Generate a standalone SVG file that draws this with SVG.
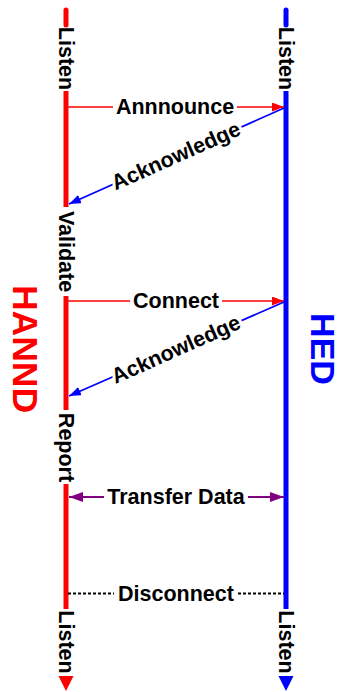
<svg xmlns="http://www.w3.org/2000/svg" width="342" height="692" viewBox="0 0 342 692">
  <style>
    .lbl { font-family: "Liberation Sans", Arial, sans-serif; font-weight: bold; font-size: 21.5px; fill: #000; }
    .halo { stroke: #fff; stroke-width: 6px; paint-order: stroke; stroke-linejoin: round; }
    .bg { fill: #fff; }
    .big { font-family: "Liberation Sans", Arial, sans-serif; font-weight: bold; font-size: 35.5px; }
    .red { stroke: #ff0000; }
    .blue { stroke: #0000ff; }
    .life { stroke-width: 5; fill: none; }
    .msg { stroke-width: 1.7; fill: none; }
  </style>
  <defs>
    <marker id="ahRed" markerUnits="userSpaceOnUse" markerWidth="12" markerHeight="9" refX="12" refY="4.5" orient="auto">
      <path d="M0,0 L12,4.5 L0,9 z" fill="#ff0000"/>
    </marker>
    <marker id="ahBlue" markerUnits="userSpaceOnUse" markerWidth="12" markerHeight="9" refX="12" refY="4.5" orient="auto">
      <path d="M0,0 L12,4.5 L0,9 z" fill="#0000ff"/>
    </marker>
    <marker id="ahPurple" markerUnits="userSpaceOnUse" markerWidth="14" markerHeight="10" refX="14" refY="5" orient="auto-start-reverse">
      <path d="M0,0 L14,5 L0,10 z" fill="#800080"/>
    </marker>
  </defs>

  <g id="hannd">
    <g class="life red">
      <line x1="66" y1="10" x2="66" y2="25" stroke-linecap="round"/>
      <line x1="66" y1="91" x2="66" y2="207"/>
      <line x1="66" y1="296" x2="66" y2="410"/>
      <line x1="66" y1="484" x2="66" y2="609"/>
    </g>
    <polygon points="58.5,676 73.5,676 66,691" fill="#ff0000"/>
    <text class="lbl" transform="translate(66,58.5) rotate(90)" text-anchor="middle" dominant-baseline="central">Listen</text>
    <text class="lbl" transform="translate(66,251.5) rotate(90)" text-anchor="middle" dominant-baseline="central">Validate</text>
    <text class="lbl" transform="translate(66,447.5) rotate(90)" text-anchor="middle" dominant-baseline="central">Report</text>
    <text class="lbl" transform="translate(66,642) rotate(90)" text-anchor="middle" dominant-baseline="central">Listen</text>
    <text class="big" fill="#ff0000" transform="translate(24.5,349) rotate(90)" text-anchor="middle" dominant-baseline="central">HANND</text>
  </g>

  <g id="hed">
    <g class="life blue">
      <line x1="286" y1="10" x2="286" y2="25" stroke-linecap="round"/>
      <line x1="286" y1="91" x2="286" y2="609"/>
    </g>
    <polygon points="278.5,676 293.5,676 286,691" fill="#0000ff"/>
    <text class="lbl" transform="translate(286,58.5) rotate(90)" text-anchor="middle" dominant-baseline="central">Listen</text>
    <text class="lbl" transform="translate(286,642) rotate(90)" text-anchor="middle" dominant-baseline="central">Listen</text>
    <text class="big" fill="#0000ff" style="font-size:34px" transform="translate(323,349) rotate(90)" text-anchor="middle" dominant-baseline="central">HED</text>
  </g>

  <g id="connectors">
    <g id="announce">
      <line class="msg red" x1="68" y1="107" x2="284" y2="107" marker-end="url(#ahRed)"/>
      <rect class="bg" x="113" y="96" width="124" height="22"/>
      <text class="lbl" x="175" y="114" text-anchor="middle">Annnounce</text>
    </g>
    <g id="ack1">
      <line class="msg blue" x1="284" y1="108" x2="69" y2="204" marker-end="url(#ahBlue)"/>
      <text class="lbl halo" transform="translate(176,156) rotate(-24)" text-anchor="middle" dominant-baseline="central">Acknowledge</text>
    </g>
    <g id="connect">
      <line class="msg red" x1="68" y1="301" x2="284" y2="301" marker-end="url(#ahRed)"/>
      <rect class="bg" x="130" y="290" width="92" height="22"/>
      <text class="lbl" x="176" y="308" text-anchor="middle">Connect</text>
    </g>
    <g id="ack2">
      <line class="msg blue" x1="284" y1="302" x2="69" y2="396" marker-end="url(#ahBlue)"/>
      <text class="lbl halo" transform="translate(176,349.5) rotate(-24)" text-anchor="middle" dominant-baseline="central">Acknowledge</text>
    </g>
    <g id="transfer">
      <line x1="69" y1="497" x2="284" y2="497" stroke="#800080" stroke-width="2" marker-start="url(#ahPurple)" marker-end="url(#ahPurple)"/>
      <rect class="bg" x="104" y="486" width="144" height="22"/>
      <text class="lbl" x="176" y="504" text-anchor="middle">Transfer Data</text>
    </g>
    <g id="disconnect">
      <line x1="68" y1="593.5" x2="284" y2="593.5" stroke="#000" stroke-width="2" stroke-dasharray="3,2"/>
      <rect class="bg" x="114" y="583" width="124" height="22"/>
      <text class="lbl" x="176" y="601" text-anchor="middle">Disconnect</text>
    </g>
  </g>
</svg>
